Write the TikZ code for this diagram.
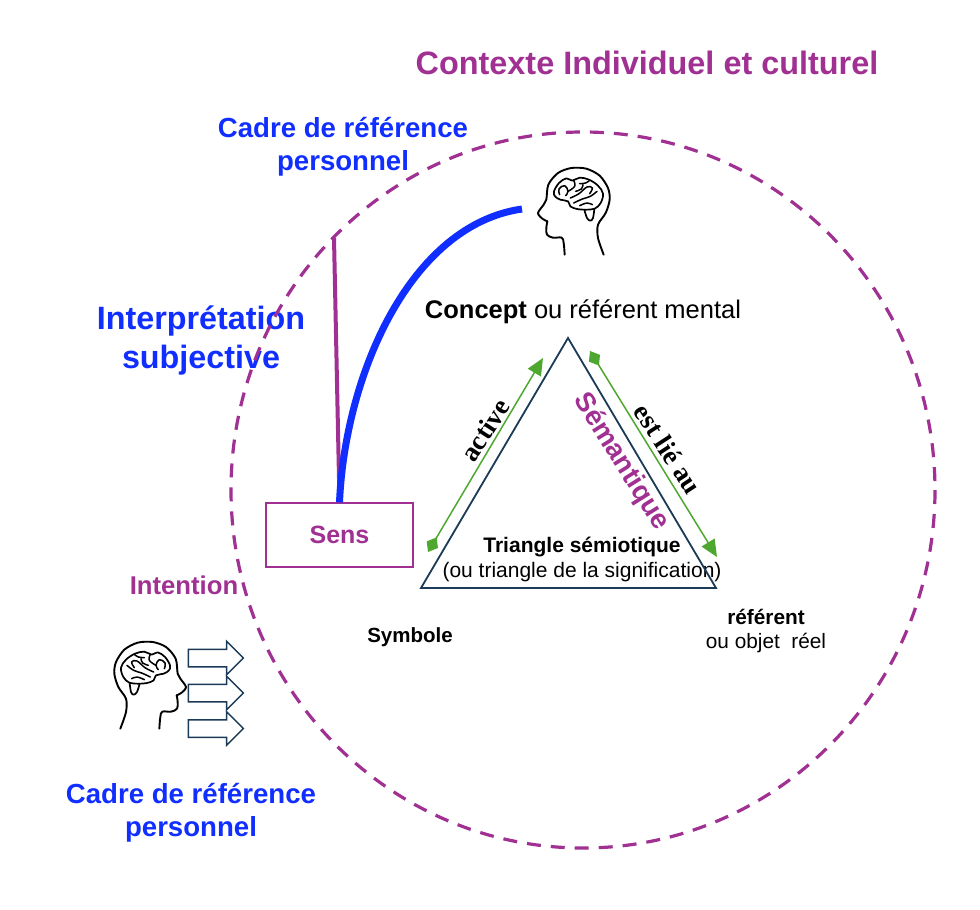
\documentclass[tikz,border=0pt]{standalone}
\usepackage{fontspec}
\setmainfont{Liberation Sans}
\newfontfamily\serifbold[BoldFont={Liberation Serif Bold}]{Liberation Serif}
\usetikzlibrary{arrows.meta,shapes.arrows}
\definecolor{violetc}{HTML}{A03092}
\definecolor{bluec}{HTML}{0F2EFF}
\definecolor{navyc}{HTML}{1B3A57}
\definecolor{greenc}{HTML}{4EA72E}
\newcommand{\fs}[1]{\fontsize{#1}{#1}\selectfont}
\tikzstyle{contexte}=[violetc, font=\bfseries\fs{32.4}]
\tikzstyle{cadre}=[bluec, align=center, font=\bfseries\fontsize{27.6}{33}\selectfont]
\tikzstyle{plain}=[black, align=center, font=\fs{20.8}]
\tikzstyle{serifrot}=[black, font=\serifbold\bfseries\fs{27}]
\tikzstyle{greenarrow}=[greenc, line width=1.5pt, {Diamond[length=17pt,width=13pt]}-{Triangle[length=17pt,width=15pt]}]
\tikzstyle{emit}=[single arrow, draw=navyc, line width=1.5pt, minimum height=55pt, inner xsep=0pt, inner ysep=8pt, single arrow head extend=8pt, single arrow tip angle=90]
\tikzset{
    headbrain/.pic={
        \begin{scope}[shift={(-115,-190)}, line cap=round, line join=round, black]
            \draw[line width=1.9pt] plot[smooth, tension=0.6] coordinates {(195,315) (192,280) (186,264) (160,264) (142,255) (140,235) (143,215)};
            \draw[line width=1.9pt] plot[smooth, tension=0.5] coordinates {(143,215) (128,207) (115,190) (132,165) (140,150) (146,105) (175,70) (215,55) (260,57) (300,78) (325,115) (330,150) (318,190) (295,225) (295,265) (312,315)};
            \draw[line width=1.7pt] plot[smooth cycle, tension=0.6] coordinates {(163,125) (178,100) (200,86) (218,93) (240,84) (268,90) (295,108) (310,132) (303,160) (285,177) (258,180) (232,178) (212,170) (205,155) (182,150) (166,140)};
            \draw[line width=1.7pt] plot[smooth, tension=0.6] coordinates {(254,180) (262,205) (272,213) (280,205) (284,178)};
            \draw[line width=1.5pt] plot[smooth, tension=0.7] coordinates {(180,135) (178,118) (195,108) (205,125) (198,138)};
            \draw[line width=1.5pt] plot[smooth, tension=0.7] coordinates {(205,125) (225,110) (222,92)};
            \draw[line width=1.5pt] plot[smooth, tension=0.7] coordinates {(212,145) (238,132) (262,112) (278,115) (270,132)};
            \draw[line width=1.5pt] plot[smooth, tension=0.7] coordinates {(222,160) (248,148) (272,140) (292,125)};
            \draw[line width=1.5pt] plot[smooth, tension=0.7] coordinates {(240,168) (262,160) (278,165)};
            \draw[line width=1.5pt] plot[smooth, tension=0.7] coordinates {(240,102) (258,100) (270,92)};
            \draw[line width=1.5pt] plot[smooth, tension=0.7] coordinates {(228,125) (245,118) (250,105)};
        \end{scope}
    }
}
\begin{document}
\begin{tikzpicture}[x=1pt, y=-1pt]
    \useasboundingbox (0,0) rectangle (980,910);
    \node[contexte] (titre)   at (647, 63) {Contexte Individuel et culturel};
    \node[cadre]    (cadre1)  at (343,147) {Cadre de référence\\personnel};
    \node[cadre, font=\bfseries\fontsize{32.3}{39}\selectfont] (interp) at (201,341) {Interprétation\\subjective};
    \node[cadre]    (cadre2)  at (191,813) {Cadre de référence\\personnel};
    \node[plain, font=\fs{25.5}] (concept) at (583,312) {\textbf{Concept} ou référent mental};
    \node[violetc, font=\bfseries\fs{25.7}] (intention) at (184,585) {Intention};
    \node[plain, font=\bfseries\fs{20.5}] (symbole)  at (410,637) {Symbole};
    \node[plain, font=\bfseries\fs{20.8}] (referent) at (766,617) {référent};
    \node[plain] (objet) at (766,643) {ou objet~ réel};
    \node[plain, font=\bfseries\fs{21}] (triangle) at (582,547) {Triangle sémiotique};
    \node[plain, font=\fs{21}] (signif) at (582,572) {(ou triangle de la signification)};
    \node[violetc, rotate=-58, font=\bfseries\fs{27.5}] (semantique) at (621,462) {Sémantique};
    \node[serifrot, rotate=57]  (active) at (485,430) {active};
    \node[serifrot, rotate=-57] (estlie) at (668,449) {est lié au};
    \node[draw=violetc, line width=1.3pt, violetc, minimum width=147pt, minimum height=64pt, font=\bfseries\fs{25}] (sens) at (339.5,535) {Sens};

    \coordinate (apex)   at (568,338);
    \coordinate (left)   at (421,588);
    \coordinate (right)  at (716,588);
    \draw[navyc, line width=1.8pt, line join=miter] (apex) -- (left) -- (right) -- cycle;

    \coordinate (a1) at (428,552);
    \coordinate (a2) at (543,358);
    \coordinate (b1) at (590,351);
    \coordinate (b2) at (717,557);
    \draw[greenarrow] (a1) -- (a2);
    \draw[greenarrow] (b1) -- (b2);

    \coordinate (interpend) at (334,238);
    \coordinate (headend)   at (522,209);
    \draw[violetc, line width=4pt] (sens.north) -- (interpend);
    \draw[bluec, line width=7pt] (sens.north) .. controls (345,375) and (410,225) .. (headend);

    \pic[scale=1/3] (headtop) at (538,213) {headbrain};
    \pic[xscale=-1/3, yscale=1/3] (headleft) at (186,687) {headbrain};

    \node[emit] (arrow1) at (211.5,658) {};
    \node[emit] (arrow2) at (211.5,693) {};
    \node[emit] (arrow3) at (211.5,728.5) {};

    \draw[violetc, line width=3.2pt, dash pattern=on 14pt off 10pt] (583,490) ellipse [x radius=352, y radius=358];
\end{tikzpicture}
\end{document}
